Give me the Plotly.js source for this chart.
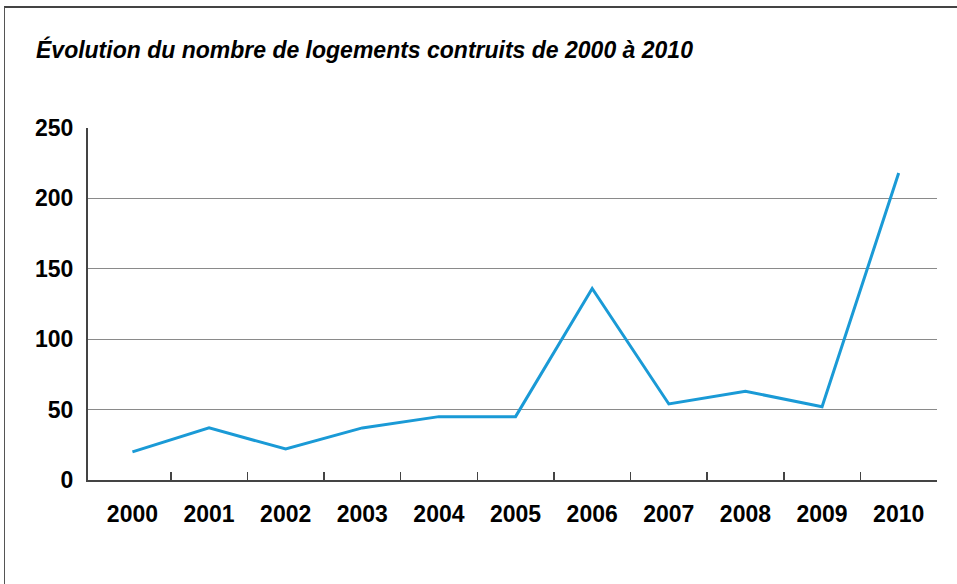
<!DOCTYPE html>
<html>
<head>
<meta charset="utf-8">
<script src="https://cdn.plot.ly/plotly-3.0.1.min.js"></script>
<style>
  html, body { margin: 0; padding: 0; background: #fff; }
  #wrap { position: relative; width: 957px; height: 584px; }
  #chart { width: 957px; height: 584px; }
  #frame { position: absolute; left: 4px; top: 6px; right: -2px; bottom: -2px;
           border-top: 2px solid #444; border-left: 1.5px solid #555; pointer-events: none; }
</style>
</head>
<body>
<div id="wrap">
  <div id="chart"></div>
  <div id="frame"></div>
</div>
<script>
const years = ["2000","2001","2002","2003","2004","2005","2006","2007","2008","2009","2010"];
const logements = [20, 37, 22, 37, 45, 45, 136, 54, 63, 52, 218];
const titleText = "Évolution du nombre de logements contruits de 2000 à 2010";
const yTicks = [0, 50, 100, 150, 200, 250];

const font = "Liberation Sans, Arial, Helvetica, sans-serif";
const xRange = [-0.58, 10.5];
// category boundaries (between consecutive years and after the last one)
const boundaries = years.map((_, i) => i + 0.5);

Plotly.newPlot("chart", [{
  type: "scatter",
  mode: "lines",
  x: years,
  y: logements,
  line: { color: "#1a9ad6", width: 3 },
  hoverinfo: "x+y"
}, {
  // helper trace (no visible marks) so the boundary-tick axis gets drawn
  type: "scatter",
  mode: "lines",
  x: boundaries,
  y: boundaries.map(() => null),
  xaxis: "x2",
  yaxis: "y",
  hoverinfo: "skip",
  showlegend: false
}], {
  width: 957,
  height: 584,
  margin: { l: 88, r: 20, t: 128, b: 104 },
  paper_bgcolor: "#fff",
  plot_bgcolor: "#fff",
  showlegend: false,
  title: {
    text: titleText,
    x: 36 / 957, xanchor: "left", xref: "container",
    y: 1 - 50 / 584, yanchor: "middle", yref: "container",
    font: { family: font, size: 23, weight: "bold", style: "italic", color: "#000" }
  },
  xaxis: {
    type: "category",
    range: xRange,
    ticks: "",
    showgrid: false,
    showline: true,
    linecolor: "#444",
    linewidth: 2,
    tickfont: { family: font, size: 23, weight: "bold", color: "#000" },
    ticklabelstandoff: 12,
    fixedrange: true
  },
  xaxis2: {
    type: "linear",
    overlaying: "x",
    side: "bottom",
    anchor: "y",
    range: xRange,
    tickvals: boundaries,
    showticklabels: false,
    ticks: "inside",
    ticklen: 8,
    tickwidth: 1.5,
    tickcolor: "#444",
    showgrid: false,
    zeroline: false,
    showline: false,
    fixedrange: true
  },
  yaxis: {
    range: [0, 250],
    tickvals: yTicks,
    ticktext: yTicks.map(String),
    ticks: "",
    showgrid: true,
    gridcolor: "#8a8a8a",
    gridwidth: 1,
    zeroline: false,
    showline: true,
    linecolor: "#444",
    linewidth: 2,
    tickfont: { family: font, size: 23, weight: "bold", color: "#000" },
    ticklabelstandoff: 8,
    fixedrange: true
  }
}, { displayModeBar: false, staticPlot: true });
</script>
</body>
</html>
